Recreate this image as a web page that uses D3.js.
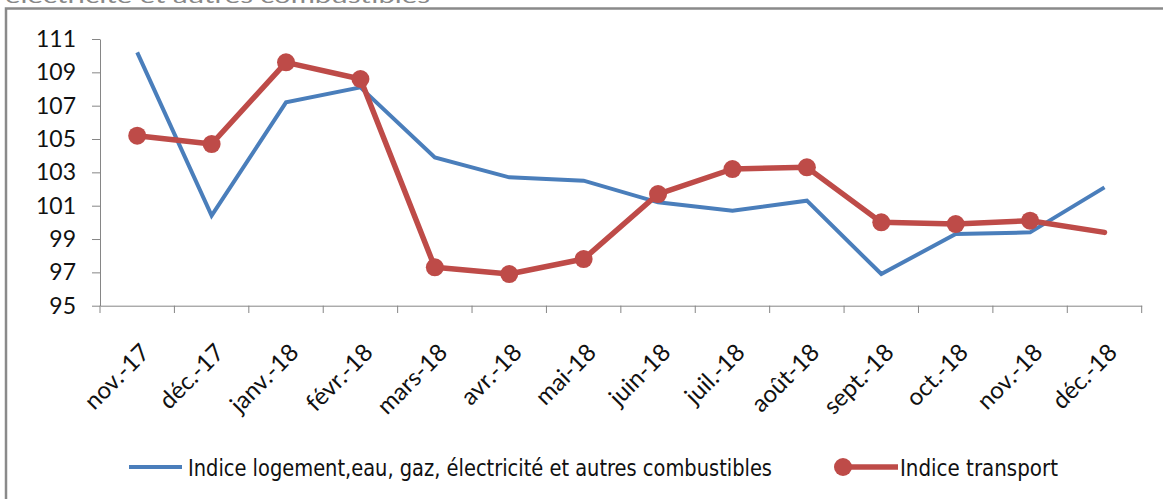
<!DOCTYPE html>
<html>
<head>
<meta charset="utf-8">
<script src="https://cdn.jsdelivr.net/npm/d3@7"></script>
<style>
  html, body { margin: 0; padding: 0; background: #fff; }
  svg { display: block; }
</style>
</head>
<body>
<svg id="chart" width="1166" height="499"></svg>
<script>
const categories = ["nov.-17","déc.-17","janv.-18","févr.-18","mars-18","avr.-18","mai-18","juin-18","juil.-18","août-18","sept.-18","oct.-18","nov.-18","déc.-18"];
const logement = [110.2,100.4,107.2,108.1,103.9,102.7,102.5,101.2,100.7,101.3,96.9,99.3,99.4,102.1];
const transport = [105.2,104.7,109.6,108.6,97.3,96.9,97.8,101.7,103.2,103.3,100.0,99.9,100.1,99.4];
const yTicks = [95,97,99,101,103,105,107,109,111];
const seriesNames = ["Indice logement,eau,  gaz, électricité  et autres combustibles", "Indice transport"];
const titleText = "électricité et autres combustibles";

const svg = d3.select("#chart");
const blue = "#4a7ebb", red = "#be4b48", axisCol = "#868686";

// cut-off title at the top (partly outside the picture, as in the reference)
svg.append("text").attr("x", 5).attr("y", 3)
  .attr("font-family", "Lato, sans-serif").attr("font-size", 20)
  .attr("fill", "#888").attr("textLength", 425).attr("lengthAdjust", "spacingAndGlyphs")
  .text(titleText);

// frame
svg.append("path").attr("d", "M6,499V8.5H1163")
  .attr("fill", "none").attr("stroke", "#8a8a8a").attr("stroke-width", 2.5);

const x = d3.scaleBand().domain(categories).range([100, 1141.7]);
const y = d3.scaleLinear().domain([95, 111]).range([305.7, 39]);
const cx = d => x(d) + x.bandwidth() / 2;

// Y axis
const yAxis = svg.append("g").attr("transform", "translate(100,0)")
  .call(d3.axisLeft(y).tickValues(yTicks).tickSize(8).tickSizeOuter(0).tickPadding(16));
yAxis.select(".domain").attr("stroke", axisCol);
yAxis.selectAll(".tick line").attr("stroke", axisCol);
yAxis.selectAll(".tick text").attr("font-family", "Lato, sans-serif").attr("font-size", 23).attr("fill", "#111");

// X axis
const xAxis = svg.append("g").attr("transform", "translate(0,305.7)")
  .call(d3.axisBottom(x).tickSize(0).tickSizeOuter(0).tickFormat(() => ""));
xAxis.select(".domain").attr("stroke", axisCol);
const bounds = categories.map(c => x(c)).concat([x.range()[1]]);
svg.append("g").selectAll("line").data(bounds).join("line")
  .attr("x1", d => d).attr("x2", d => d).attr("y1", 305.7).attr("y2", 313)
  .attr("stroke", axisCol);
svg.append("g").selectAll("text").data(categories).join("text")
  .attr("transform", d => `translate(${cx(d) + 14},354) rotate(-45)`)
  .attr("text-anchor", "end")
  .attr("font-family", "Lato, sans-serif").attr("font-size", 24).attr("fill", "#111")
  .text(d => d);

// lines
const line = d3.line().x((d, i) => cx(categories[i])).y(d => y(d));
svg.append("path").datum(logement).attr("d", line)
  .attr("fill", "none").attr("stroke", blue).attr("stroke-width", 4).attr("stroke-linejoin", "miter");
svg.append("path").datum(transport).attr("d", line)
  .attr("fill", "none").attr("stroke", red).attr("stroke-width", 5.5).attr("stroke-linejoin", "round").attr("stroke-linecap", "round");
svg.append("g").selectAll("circle").data(transport.slice(0, -1)).join("circle")
  .attr("cx", (d, i) => cx(categories[i])).attr("cy", d => y(d)).attr("r", 9)
  .attr("fill", red);

// legend
svg.append("line").attr("x1", 129).attr("x2", 182).attr("y1", 467).attr("y2", 467)
  .attr("stroke", blue).attr("stroke-width", 4);
svg.append("text").attr("x", 188).attr("y", 476)
  .attr("font-family", "'Liberation Sans Narrow', 'Arial Narrow', 'DejaVu Sans Condensed', sans-serif")
  .attr("font-size", 23).attr("fill", "#111")
  .attr("textLength", 584).attr("lengthAdjust", "spacingAndGlyphs")
  .text(seriesNames[0]);
svg.append("line").attr("x1", 838).attr("x2", 898).attr("y1", 467).attr("y2", 467)
  .attr("stroke", red).attr("stroke-width", 5.5);
svg.append("circle").attr("cx", 843).attr("cy", 467).attr("r", 9).attr("fill", red);
svg.append("text").attr("x", 900).attr("y", 476)
  .attr("font-family", "'Liberation Sans Narrow', 'Arial Narrow', 'DejaVu Sans Condensed', sans-serif")
  .attr("font-size", 23).attr("fill", "#111")
  .attr("textLength", 158).attr("lengthAdjust", "spacingAndGlyphs")
  .text(seriesNames[1]);
</script>
</body>
</html>
